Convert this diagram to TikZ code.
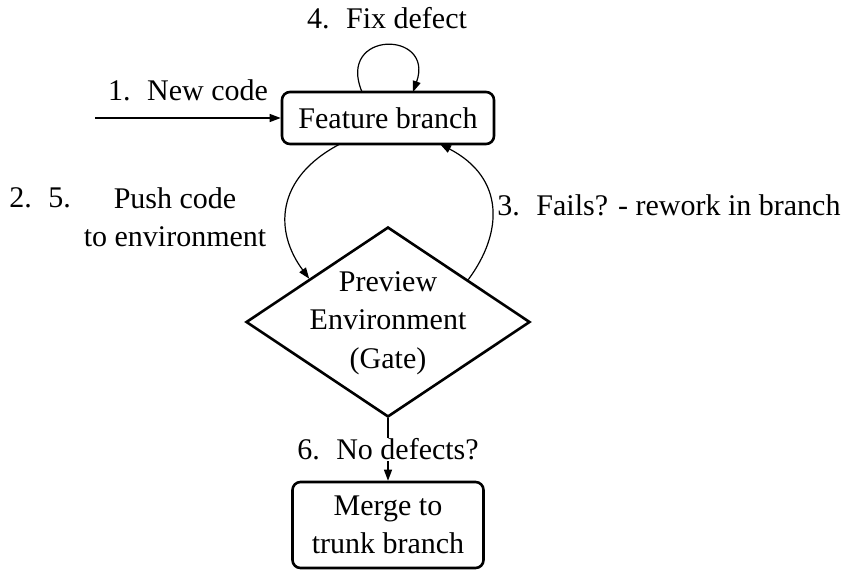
\documentclass[tikz,border=0pt]{standalone}
\usepackage{fontspec}
\setmainfont{Liberation Serif}
\usetikzlibrary{shapes.geometric,arrows.meta,calc}
\begin{document}
\begin{tikzpicture}[x=1pt,y=-1pt,
  every node/.style={font=\fontsize{30}{38.5}\selectfont},
  box/.style={draw,line width=2.6pt,rounded corners=8pt,inner sep=0pt,align=center},
  gate/.style={draw,diamond,line width=2.6pt,inner sep=0pt,minimum width=284pt,minimum height=190pt},
  conn/.style={line width=1.2pt,-{Triangle[length=11pt,width=8pt]}},
  lbl/.style={inner sep=0pt,anchor=base}]
\useasboundingbox (0,0) rectangle (843,571);
\node[box,minimum width=212pt,minimum height=52pt] (fb) at (388,118) {Feature branch};
\node[gate] (dia) at (388,322) {};
\node[inner sep=0pt,align=center] (diatext) at (388,323) {Preview\\Environment\\(Gate)};
\node[box,minimum width=191pt,minimum height=86pt] (mg) at (388,525) {Merge to\\trunk branch};
\coordinate (in) at (95,118);
\coordinate (fbl) at (340,144);
\coordinate (fbr) at (440,144);
\coordinate (dl) at ($(dia.west)!0.45!(dia.north)$);
\coordinate (dr) at ($(dia.east)!0.44!(dia.north)$);
\coordinate (lpa) at (362,92);
\coordinate (lpb) at (413,92);
% connectors
\draw[conn] (in) -- (fb.west);
\draw[conn] (lpa) .. controls +(-26,-62) and +(22,-62) .. (lpb);
\draw[conn] (fbl) .. controls +(-65,34) and +(-35,-47) .. (dl);
\draw[conn] (dr) .. controls +(35,-47) and +(65,34) .. (fbr);
\draw[conn] (dia.south) -- (mg.north) node[midway,fill=white,inner sep=1pt] (l6) {6.\hskip0.55em No defects?};
% labels
\node[lbl] (l1) at (188,100) {1.\hskip0.55em New code};
\node[lbl] (l4) at (387,28) {4.\hskip0.55em Fix defect};
\node[lbl] (l25) at (40,207) {2.\hskip0.55em 5.};
\node[inner sep=0pt,align=center] (lpush) at (175,217) {Push code\\to environment};
\node[lbl] (l3) at (669,215) {3.\hskip0.55em Fails? - rework in branch};
\end{tikzpicture}
\end{document}
